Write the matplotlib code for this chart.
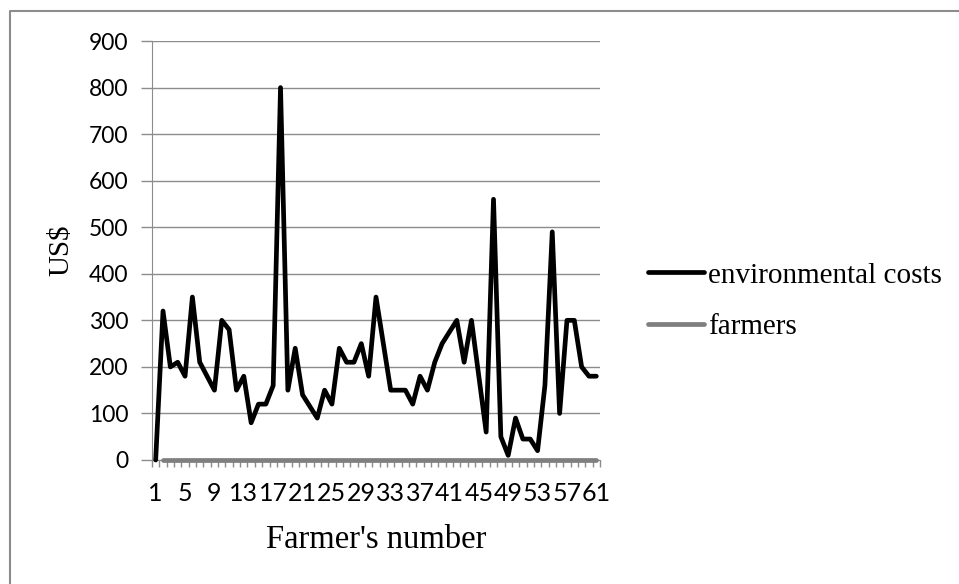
import numpy as np
import matplotlib
matplotlib.use("Agg")
import matplotlib.pyplot as plt
from matplotlib.lines import Line2D

# data
farmer_no = list(range(1, 62))
env_costs = [0, 320, 200, 210, 180, 350, 210, 180, 150, 300,
             280, 150, 180, 80, 120, 120, 160, 800, 150, 240,
             140, 115, 90, 150, 120, 240, 210, 210, 250, 180,
             350, 250, 150, 150, 150, 120, 180, 150, 210, 250,
             275, 300, 210, 300, 180, 60, 560, 50, 10, 90,
             45, 45, 20, 160, 490, 100, 300, 300, 200, 180, 180]
farmers = [np.nan] + [0] * 60
tick_labels = [str(n) for n in farmer_no[::4]]

serif = "Liberation Serif"
sans = "Lato"
W, H = 959, 584

fig = plt.figure(figsize=(W / 100, H / 100), dpi=100)
ax = fig.add_axes([152 / W, 1 - 460 / H, (600 - 152) / W, (460 - 41) / H])

x = np.arange(len(farmer_no))
ax.plot(x, env_costs, color="black", lw=3.4, solid_joinstyle="round",
        solid_capstyle="round", label="environmental costs", clip_on=False, zorder=3)
ax.plot(x, farmers, color="#7f7f7f", lw=3.4, solid_capstyle="round",
        label="farmers", clip_on=False, zorder=4)

ax.set_xlim(-0.5, len(x) - 0.5)
ax.set_ylim(0, 900)
ax.set_yticks(range(0, 901, 100))
ax.yaxis.grid(True, color="#8c8c8c", lw=1)
ax.set_axisbelow(True)

# ticks at category boundaries, labels every 4th category
ax.set_xticks(np.arange(-0.5, len(x), 1))
ax.set_xticklabels([])
ax.set_xticks(x[::4], minor=True)
ax.set_xticklabels(tick_labels, minor=True, fontfamily=sans, fontsize=18)
ax.tick_params(axis="x", which="major", length=5, color="#8c8c8c", width=1)
ax.tick_params(axis="x", which="minor", length=0, pad=16)
ax.tick_params(axis="y", length=8, color="#8c8c8c", width=1, pad=9)
for lab in ax.get_yticklabels():
    lab.set_fontfamily(sans)
    lab.set_fontsize(16.5)

for s in ["top", "right"]:
    ax.spines[s].set_visible(False)
ax.spines["left"].set_color("#8c8c8c")
ax.spines["bottom"].set_color("#8c8c8c")

ax.set_xlabel("Farmer's number", fontfamily=serif, fontsize=23.5, labelpad=14)
ax.set_ylabel("US$", fontfamily=serif, fontsize=21, labelpad=10)

fig.legend(loc="center left", bbox_to_anchor=(622 / W, 1 - 301 / H),
           frameon=False, prop={"family": serif, "size": 21},
           handlelength=1.9, handletextpad=0.15, labelspacing=0.85)

# chart-area border (top and left edges visible in the reference)
fig.add_artist(Line2D([10 / W, 10 / W, 1], [0, 1 - 11 / H, 1 - 11 / H],
                      transform=fig.transFigure, color="#8c8c8c", lw=1.5))

fig.savefig("out.png", dpi=100)
